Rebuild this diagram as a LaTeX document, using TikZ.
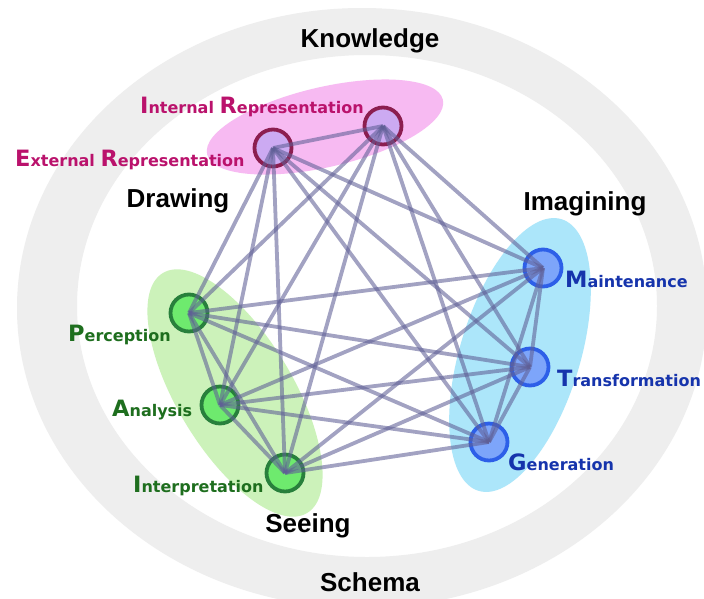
\documentclass[tikz,border=0pt]{standalone}
\usepackage{fontspec}
\setmainfont{Liberation Sans}
\newfontfamily\labfont{DejaVu Sans}
\definecolor{ringgrey}{RGB}{238,238,238}
\definecolor{pinkell}{RGB}{247,186,242}
\definecolor{greenell}{RGB}{204,242,186}
\definecolor{blueell}{RGB}{172,230,250}
\definecolor{magtext}{RGB}{186,18,108}
\definecolor{magdraw}{RGB}{140,30,80}
\definecolor{magfill}{RGB}{204,170,242}
\definecolor{grtext}{RGB}{30,110,30}
\definecolor{grdraw}{RGB}{40,128,60}
\definecolor{grfill}{RGB}{110,234,110}
\definecolor{bltext}{RGB}{22,52,172}
\definecolor{bldraw}{RGB}{45,95,232}
\definecolor{blfill}{RGB}{125,165,250}
\definecolor{edgecol}{RGB}{95,95,150}
\newcommand\BL[1]{{\fontsize{22.5}{22.5}\selectfont #1}}
\begin{document}
\begin{tikzpicture}[x=1pt,y=-1pt,
  vnode/.style={circle, minimum size=37pt, inner sep=0pt, line width=3.8pt},
  magnode/.style={vnode, draw=magdraw, fill=magfill},
  grnode/.style={vnode, draw=grdraw, fill=grfill},
  blnode/.style={vnode, draw=bldraw, fill=blfill},
  edge/.style={draw=edgecol, line width=3.8pt, draw opacity=0.58},
  sublab/.style={font=\labfont\bfseries\fontsize{16}{16}\selectfont, inner sep=0pt, anchor=base west},
  maglab/.style={sublab, text=magtext},
  grlab/.style={sublab, text=grtext},
  bllab/.style={sublab, text=bltext},
  catlab/.style={font=\bfseries\fontsize{26}{26}\selectfont, inner sep=0pt, anchor=base}]
\useasboundingbox (0,0) rectangle (704,598);
\clip (0,0) rectangle (704,598);
\fill[white] (0,0) rectangle (704,598);
% ring
\fill[ringgrey, even odd rule] (362,308) ellipse [x radius=345, y radius=300]
  (367,306) ellipse [x radius=290, y radius=251];
% group ellipses
\fill[pinkell, rotate around={13:(325,127)}] (325,127) ellipse [x radius=121, y radius=40];
\fill[greenell, rotate around={-59:(235,393)}] (235,393) ellipse [x radius=140, y radius=58];
\fill[blueell, rotate around={73:(520,355)}] (520,355) ellipse [x radius=142, y radius=60];
% nodes
\node[magnode] (ir) at (383,126) {};
\node[magnode] (er) at (273,148) {};
\node[grnode] (p) at (189,313) {};
\node[grnode] (a) at (220,405) {};
\node[grnode] (i) at (285,473) {};
\node[blnode] (m) at (543,268) {};
\node[blnode] (t) at (530,367) {};
\node[blnode] (g) at (489,442) {};
% edges (complete graph)
\foreach \u/\v in {ir/er,ir/p,ir/a,ir/i,ir/m,ir/t,ir/g,
                   er/p,er/a,er/i,er/m,er/t,er/g,
                   p/a,p/i,p/m,p/t,p/g,
                   a/i,a/m,a/t,a/g,
                   i/m,i/t,i/g,
                   m/t,m/g,t/g}
  \draw[edge] (\u.center) -- (\v.center);
% node labels
\node[maglab] (lir) at (140,113) {\BL{I}nternal \BL{R}epresentation};
\node[maglab] (ler) at (15,166) {\BL{E}xternal \BL{R}epresentation};
\node[grlab] (lp) at (68,341) {\BL{P}erception};
\node[grlab] (la) at (112,416) {\BL{A}nalysis};
\node[grlab] (li) at (133,492) {\BL{I}nterpretation};
\node[bllab] (lm) at (565,287) {\BL{M}aintenance};
\node[bllab] (lt) at (557,386) {\BL{T}ransformation};
\node[bllab] (lg) at (508,470) {\BL{G}eneration};
% category labels
\node[catlab] (know) at (370,47) {Knowledge};
\node[catlab] (draw) at (178,207) {Drawing};
\node[catlab] (imag) at (585,210) {Imagining};
\node[catlab] (see) at (308,532) {Seeing};
\node[catlab] (sch) at (370,591) {Schema};
\end{tikzpicture}
\end{document}
